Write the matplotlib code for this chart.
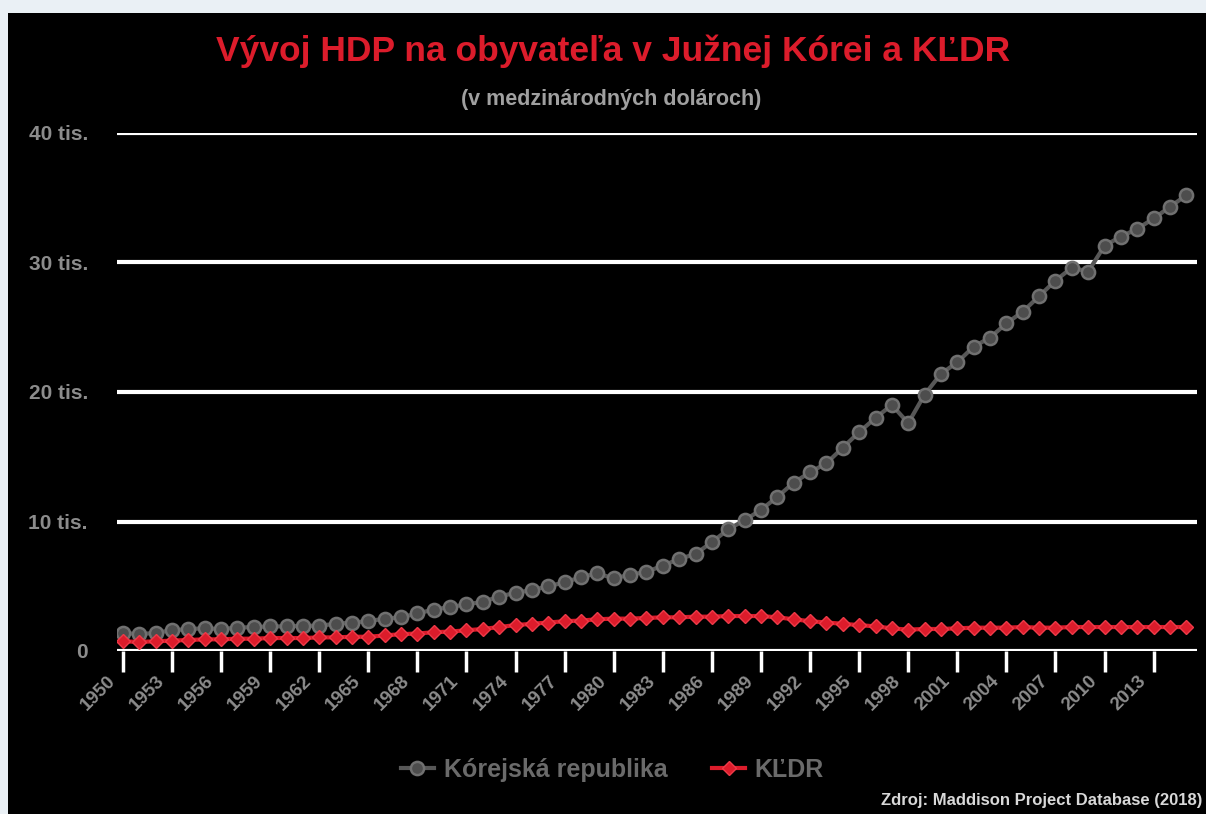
import matplotlib.pyplot as plt
import matplotlib.patches as mpatches
import matplotlib.transforms as mtransforms
import numpy as np

plt.rcParams['font.family'] = ['Liberation Sans', 'DejaVu Sans']

years = list(range(1950, 2016))
# HDP na obyvatela (medzinarodne doláre)
korea = [1400, 1300, 1400, 1600, 1700, 1750, 1700, 1800, 1850, 1900,
         1900, 1950, 1950, 2100, 2200, 2300, 2500, 2600, 2900, 3200,
         3400, 3600, 3800, 4200, 4500, 4700, 5000, 5300, 5700, 6000,
         5600, 5900, 6100, 6600, 7100, 7500, 8400, 9400, 10100, 10900,
         11900, 13000, 13800, 14500, 15700, 16900, 18000, 19000, 17600, 19800,
         21400, 22300, 23500, 24200, 25300, 26200, 27400, 28600, 29600, 29300,
         31300, 32000, 32600, 33400, 34300, 35200]
nkorea = [750, 700, 750, 800, 850, 900, 900, 950, 950, 1000,
          1000, 1000, 1050, 1050, 1100, 1100, 1200, 1300, 1350, 1450,
          1500, 1600, 1700, 1850, 2000, 2100, 2200, 2300, 2350, 2450,
          2500, 2500, 2550, 2600, 2600, 2650, 2650, 2700, 2700, 2700,
          2600, 2450, 2300, 2200, 2100, 2000, 1900, 1750, 1650, 1700,
          1700, 1750, 1800, 1800, 1800, 1850, 1800, 1800, 1850, 1850,
          1850, 1850, 1850, 1850, 1850, 1850]
tick_years = list(range(1950, 2014, 3))
ytick_vals = [0, 10000, 20000, 30000, 40000]
ytick_labels = ['0', '10 tis.', '20 tis.', '30 tis.', '40 tis.']

gray = '#575757'
red = '#dc1c2b'
txtgray = '#8c8c8c'

fig = plt.figure(figsize=(12.06, 8.14), dpi=100)
fig.patch.set_facecolor('#eaf0f5')
fig.patches.append(mpatches.Rectangle((8 / 1206, 0), 1, 1 - 13 / 814,
                                      transform=fig.transFigure,
                                      facecolor='black', edgecolor='none', zorder=-5))

ax = fig.add_axes([117 / 1206, 163 / 814, 1080 / 1206, 518 / 814])
ax.set_zorder(2)
ax.patch.set_alpha(0)

ax.plot(years, korea, color=gray, lw=3, marker='o', ms=9.5,
        mfc='#4d4d4d', mec='#707070', mew=1.8, label='Kórejská republika', zorder=3)
ax.plot(years, nkorea, color=red, lw=3, marker='D', ms=7.5,
        mfc=red, mec='#ee3a48', mew=1, label='KĽDR', zorder=4)

ax.set_xlim(1949.64, 2015.65)
ax.set_ylim(0, 40000)
ax.set_yticks(ytick_vals)
ax.set_yticklabels(ytick_labels)
for v in ytick_vals[1:]:
    ax.axhline(v, color='white', lw=3, zorder=1)
ax.axhline(0, color='white', lw=3, zorder=2)

# x labels drawn by hand so they can sit left of the tick like in excel
ax.set_xticks(tick_years)
ax.set_xticklabels([])
lab_tr = ax.get_xaxis_transform() + mtransforms.ScaledTranslation(-0.16, -0.21, fig.dpi_scale_trans)
for y in tick_years:
    ax.text(y, 0, str(y), transform=lab_tr, rotation=45, ha='right', va='top',
            rotation_mode='anchor', fontsize=13.5, fontweight='bold', color=txtgray,
            clip_on=False)
ax.tick_params(axis='x', length=15, width=2.5, color='white', pad=4)
ax.tick_params(axis='y', length=0, pad=21, labelsize=15, labelcolor=txtgray)
for lab in ax.get_yticklabels():
    lab.set_fontweight('bold')
for s in ax.spines.values():
    s.set_visible(False)

fig.text(0.508, 1 - 51 / 814, 'Vývoj HDP na obyvateľa v Južnej Kórei a KĽDR',
         ha='center', va='center', fontsize=25.5, fontweight='bold', color=red)
fig.text(0.507, 1 - 100 / 814, '(v medzinárodných dolároch)',
         ha='center', va='center', fontsize=15.5, fontweight='bold', color='#a0a0a0')

leg = fig.legend(loc='center', bbox_to_anchor=(0.508, 1 - 770 / 814), ncol=2,
                 frameon=False, fontsize=18, handlelength=1.3, columnspacing=1.8,
                 handletextpad=0.4)
for t in leg.get_texts():
    t.set_color('#6a6a6a')
    t.set_fontweight('bold')

fig.text(1202 / 1206, 1 - 800 / 814, 'Zdroj: Maddison Project Database (2018)',
         ha='right', va='center', fontsize=12, fontweight='bold', color='#d8d8d8')

fig.savefig('out.png', dpi=100, facecolor=fig.get_facecolor())
